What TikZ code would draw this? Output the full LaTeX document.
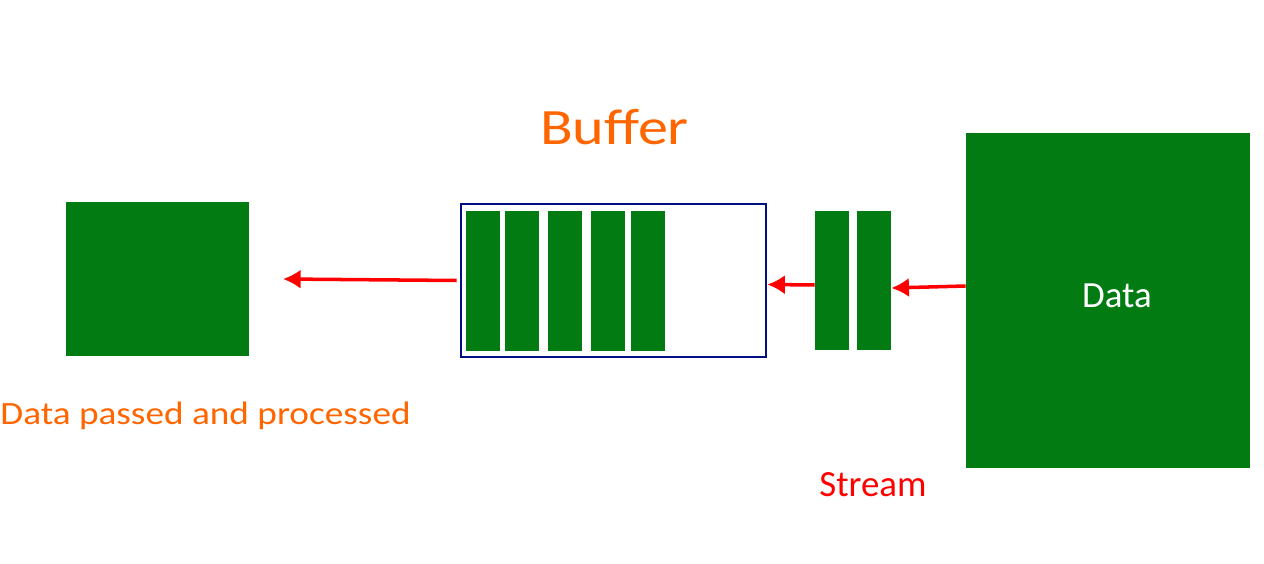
\documentclass[tikz,border=0pt]{standalone}
\usepackage{fontspec}
\setmainfont{Carlito}
\usetikzlibrary{arrows.meta}
\definecolor{blockgreen}{RGB}{2,124,18}
\definecolor{textorange}{RGB}{255,102,0}
\definecolor{framenavy}{RGB}{0,16,128}

\tikzset{
    greenbox/.style={fill=blockgreen, draw=none, inner sep=0pt},
    bar/.style={greenbox, minimum width=0.68cm, minimum height=2.8cm},
    flow/.style={draw=red, line width=2pt, -{Latex[length=10pt,width=11pt]}}
}

\begin{document}
\begin{tikzpicture}[x=0.02cm,y=-0.02cm]
        \useasboundingbox (0,0) rectangle (1264,564);
        %数据源
        \node[greenbox, minimum width=5.68cm, minimum height=6.7cm] (data) at (1108,300.5) {};
        \node[white, font=\fontsize{21}{24}\selectfont, anchor=base] (datalbl) at (1117,307) {Data};
        %流
        \node[bar] (s1) at (832,280.5) {};
        \node[bar] (s2) at (874,280.5) {};
        \node[red, font=\fontsize{21}{24}\selectfont, anchor=base] (streamlbl) at (873,496) {Stream};
        %缓冲区
        \node[draw=framenavy, line width=1.5pt, minimum width=6.1cm, minimum height=3.06cm, inner sep=0pt] (buffer) at (613.5,280.5) {};
        \node[bar] (b1) at (483,281) {};
        \node[bar] (b2) at (522,281) {};
        \node[bar] (b3) at (565,281) {};
        \node[bar] (b4) at (608,281) {};
        \node[bar] (b5) at (648,281) {};
        \node[textorange, font=\fontsize{29}{34}\selectfont, anchor=base] (bufferlbl) at (614.5,145) {\scalebox{1.18}[1]{Buffer}};
        %处理后
        \node[greenbox, minimum width=3.66cm, minimum height=3.08cm] (out) at (157.5,279) {};
        \node[textorange, font=\fontsize{18.5}{22}\selectfont, anchor=base west, inner sep=0pt] (outlbl) at (0,424) {\scalebox{1.146}[1]{Data passed and processed}};
        \coordinate (outin) at (283,279);
        %箭头
        \draw[flow] ([yshift=0.29cm]data.west) -- ([yshift=-0.15cm]s2.east);
        \draw[flow] ([yshift=-0.09cm]s1.west) -- ([yshift=-0.08cm]buffer.east);
        \draw[flow] ([xshift=-0.06cm]buffer.west) -- (outin);
    \end{tikzpicture}
\end{document}
